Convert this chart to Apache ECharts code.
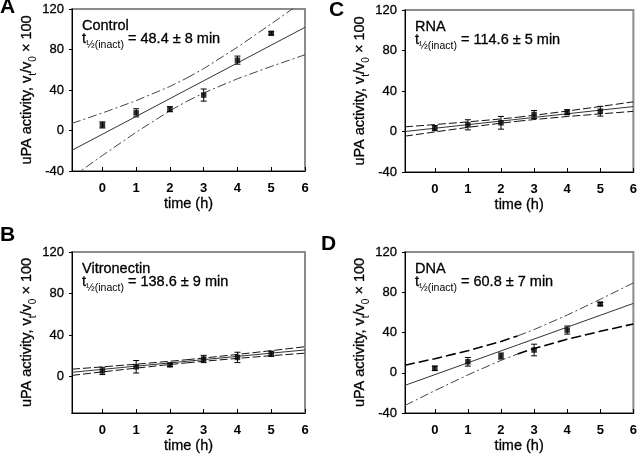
<!DOCTYPE html>
<html><head><meta charset="utf-8">
<script src="https://cdn.jsdelivr.net/npm/echarts@6/dist/echarts.min.js"></script>
<style>html,body{margin:0;padding:0;background:#fff}#c{width:640px;height:455px}</style>
</head><body><div id="c"></div>
<script>
// ---- data ----
const timeH = [0, 1, 2, 3, 4, 5];
const xTicks = [0, 1, 2, 3, 4, 5, 6];
const yTicks = [-40, 0, 40, 80, 120];
const yTicksB = [0, 40, 80, 120];
const bandX = [-0.9, 0, 1, 2, 2.5, 3, 4, 5, 6];

const panelLetters = ['A', 'C', 'B', 'D'];
const panelNames = ['Control', 'RNA', 'Vitronectin', 'DNA'];
const halfLives = ['48.4 ± 8', '114.6 ± 5', '138.6 ± 9', '60.8 ± 7'];

const controlMean = [5.5, 17.5, 21, 35, 69.5, 96];
const controlErr = [3, 4, 2.5, 6, 4, 1.5];
const controlFit = [-19.5, -3.7, 13.9, 31.5, 40.3, 49.1, 66.7, 84.3, 101.9];
const controlUpper = [7, 17.3, 29.5, 43.5, 51.8, 61.1, 82.3, 105.3, 129];
const controlLower = [-46, -24.7, -1.7, 19.5, 28.8, 37.1, 51.1, 63.3, 74.8];

const rnaMean = [3.3, 6.6, 8.6, 16.8, 19, 20];
const rnaErr = [2.5, 5, 6.3, 4, 2.5, 4.8];
const rnaFit = [0, 3.2, 6.8, 10.3, 12.1, 13.9, 17.5, 21.1, 24.6];
const rnaUpper = [4.6, 6.85, 9.5, 12.4, 14.1, 16.0, 20.2, 24.7, 29.3];
const rnaLower = [-4.6, -0.45, 4.1, 8.2, 10.1, 11.8, 14.8, 17.4, 19.9];

const vitMean = [5.5, 9.5, 11.3, 17, 18.5, 22];
const vitErr = [3.5, 6, 1.5, 3.5, 5, 2.5];
const vitFit = [4.2, 7.0, 10.1, 13.2, 14.8, 16.4, 19.5, 22.6, 25.7];
const vitUpper = [7.2, 9.4, 12.0, 14.8, 16.3, 17.9, 21.4, 25.0, 28.8];
const vitLower = [1.2, 4.6, 8.2, 11.7, 13.3, 14.8, 17.6, 20.2, 22.6];

const dnaMean = [4.4, 10.9, 16.6, 22.6, 42.4, 68.3];
const dnaErr = [2.2, 4.3, 3, 5.8, 4, 1.5];
const dnaFit = [-12.5, -1.9, 9.9, 21.7, 27.6, 33.5, 45.3, 57.1, 68.9];
const dnaUpper = [7.5, 14, 21.9, 31.1, 36.6, 42.9, 57.3, 73, 89.3];
const dnaLower = [-32.5, -17.8, -2.1, 12.3, 18.6, 24.1, 33.3, 41.2, 48.5];

// ---- styling / layout ----
const FONT = '"Liberation Sans", Arial, Helvetica, sans-serif';
const ST = {
  solid: { color: '#333', width: 1, type: 'solid' },
  dashdot: { color: '#444', width: 1, type: [9, 3, 2, 3] },
  thick: { color: '#000', width: 1.6, type: [10, 4] },
  dashed: { color: '#111', width: 1, type: [8, 3] }
};
const panels = [
  { grid: { left: 72, top: 9, width: 233, height: 162 }, ymin: -40, yt: yTicks,
    mean: controlMean, err: controlErr, fit: controlFit, up: controlUpper, lo: controlLower,
    sty: ['dashdot', 'dashdot', 'dashdot', 'dashdot'] },
  { grid: { left: 405, top: 10, width: 231, height: 162 }, ymin: -40, yt: yTicks,
    mean: rnaMean, err: rnaErr, fit: rnaFit, up: rnaUpper, lo: rnaLower,
    sty: ['dashed', 'dashed', 'dashed', 'dashed'] },
  { grid: { left: 72, top: 252, width: 233, height: 161 }, ymin: -35, yt: yTicksB,
    mean: vitMean, err: vitErr, fit: vitFit, up: vitUpper, lo: vitLower,
    sty: ['dashed', 'dashed', 'dashed', 'dashed'] },
  { grid: { left: 405, top: 252, width: 233, height: 161 }, ymin: -40, yt: yTicks,
    mean: dnaMean, err: dnaErr, fit: dnaFit, up: dnaUpper, lo: dnaLower,
    sty: ['thick', 'dashdot', 'dashdot', 'thick'] }
];
const letterPos = [[0, -3], [329, 0], [0, 225], [321, 234]];

const grids = [], xAxes = [], yAxes = [], series = [], graphics = [];
const pair = (xs, ys) => xs.map((x, i) => [x, ys[i]]);
const SPLIT = 4; // index of x = 2.5 in bandX

panels.forEach((p, i) => {
  grids.push(Object.assign({ show: true, borderColor: '#8c8c8c', borderWidth: 2, containLabel: false }, p.grid));
  xAxes.push({
    type: 'value', gridIndex: i, min: -0.9, max: 6,
    axisLine: { onZero: false, lineStyle: { color: '#000', width: 1 } },
    axisTick: { inside: true, length: 4, customValues: xTicks, lineStyle: { color: '#000' } },
    axisLabel: { customValues: xTicks, margin: 11, fontSize: 13, fontWeight: 'bold', color: '#000', fontFamily: FONT },
    splitLine: { show: false },
    name: 'time (h)', nameLocation: 'middle', nameGap: 25,
    nameTextStyle: { fontSize: 14.5, color: '#000', fontFamily: FONT, textBorderColor: '#000', textBorderWidth: 0.3 }
  });
  yAxes.push({
    type: 'value', gridIndex: i, min: p.ymin, max: 120,
    axisLine: { onZero: false, lineStyle: { color: '#000', width: 1 } },
    axisTick: { inside: false, length: 3, customValues: p.yt, lineStyle: { color: '#000' } },
    axisLabel: { customValues: p.yt, margin: 8, fontSize: 13, color: '#000', fontFamily: FONT,
      textBorderColor: '#000', textBorderWidth: 0.3 },
    splitLine: { show: false },
    name: '{m|uPA activity, v}{s|t}{m|/v}{s|0}{m| × 100}',
    nameLocation: 'middle', nameRotate: 90, nameGap: 28,
    nameTextStyle: {
      fontFamily: FONT, color: '#000',
      rich: {
        m: { fontSize: 14.5, lineHeight: 22, verticalAlign: 'middle', fontFamily: FONT, color: '#000',
          textBorderColor: '#000', textBorderWidth: 0.3 },
        s: { fontSize: 10, lineHeight: 22, verticalAlign: 'bottom', fontFamily: FONT, color: '#000' }
      }
    }
  });
  const ls = (k) => ({ color: ST[k].color, width: ST[k].width, type: ST[k].type });
  const lineBase = { type: 'line', xAxisIndex: i, yAxisIndex: i, symbol: 'none', clip: true,
    smooth: false, silent: true, animation: false };
  series.push(Object.assign({}, lineBase, { data: pair(bandX, p.fit), lineStyle: ls('solid') }));
  series.push(Object.assign({}, lineBase, { data: pair(bandX, p.up).slice(0, SPLIT + 1), lineStyle: ls(p.sty[0]) }));
  series.push(Object.assign({}, lineBase, { data: pair(bandX, p.up).slice(SPLIT), lineStyle: ls(p.sty[1]) }));
  series.push(Object.assign({}, lineBase, { data: pair(bandX, p.lo).slice(0, SPLIT + 1), lineStyle: ls(p.sty[2]) }));
  series.push(Object.assign({}, lineBase, { data: pair(bandX, p.lo).slice(SPLIT), lineStyle: ls(p.sty[3]) }));
  series.push({
    type: 'custom', xAxisIndex: i, yAxisIndex: i, silent: true, animation: false,
    data: timeH.map((x, k) => [x, p.mean[k], p.err[k]]),
    renderItem: (params, api) => {
      const x = api.value(0), m = api.value(1), e = api.value(2);
      const t = api.coord([x, m + e]), b = api.coord([x, m - e]);
      const hw = 3, st = { stroke: '#000', lineWidth: 1 };
      return { type: 'group', children: [
        { type: 'line', shape: { x1: t[0], y1: t[1], x2: b[0], y2: b[1] }, style: st },
        { type: 'line', shape: { x1: t[0] - hw, y1: t[1], x2: t[0] + hw, y2: t[1] }, style: st },
        { type: 'line', shape: { x1: b[0] - hw, y1: b[1], x2: b[0] + hw, y2: b[1] }, style: st }
      ] };
    },
    z: 3
  });
  series.push({
    type: 'scatter', xAxisIndex: i, yAxisIndex: i, silent: true, animation: false,
    symbol: 'rect', symbolSize: 5.5, itemStyle: { color: '#000' },
    data: pair(timeH, p.mean), z: 4
  });
  // annotations
  const gx = p.grid.left + 10, gy = p.grid.top;
  graphics.push({
    type: 'text', x: gx, y: gy + 9, silent: true,
    style: { text: panelNames[i], fontSize: 14.5, fontFamily: FONT, fill: '#000', verticalAlign: 'top',
      stroke: '#000', lineWidth: 0.3 }
  });
  graphics.push({
    type: 'text', x: gx, y: gy + 18, silent: true,
    style: {
      text: '{t|t}{s|½(inact)}{m| = ' + halfLives[i] + ' min}',
      verticalAlign: 'top', fontFamily: FONT, fill: '#000',
      rich: {
        t: { fontSize: 14.5, lineHeight: 24, verticalAlign: 'middle', fontFamily: FONT, fill: '#000', stroke: '#000', lineWidth: 0.3 },
        m: { fontSize: 14.5, lineHeight: 24, verticalAlign: 'middle', fontFamily: FONT, fill: '#000', stroke: '#000', lineWidth: 0.3 },
        s: { fontSize: 10.5, lineHeight: 24, verticalAlign: 'bottom', fontFamily: FONT, fill: '#000' }
      }
    }
  });
  graphics.push({
    type: 'text', x: letterPos[i][0], y: letterPos[i][1], silent: true,
    style: { text: panelLetters[i], fontSize: 21, fontWeight: 'bold', fontFamily: FONT, fill: '#000', verticalAlign: 'top' }
  });
});

const chart = echarts.init(document.getElementById('c'), null, { renderer: 'canvas' });
chart.setOption({
  animation: false,
  backgroundColor: '#fff',
  grid: grids, xAxis: xAxes, yAxis: yAxes, series: series, graphic: graphics
});
</script>
</body></html>
